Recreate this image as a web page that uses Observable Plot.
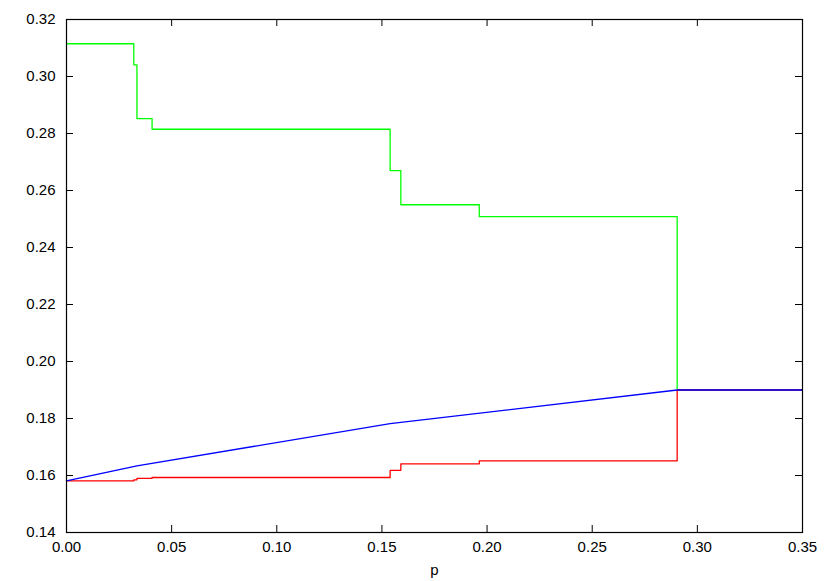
<!DOCTYPE html>
<html>
<head>
<meta charset="utf-8">
<script src="https://cdn.jsdelivr.net/npm/d3@7"></script>
<script src="https://cdn.jsdelivr.net/npm/@observablehq/plot@0.6"></script>
<style>
  html, body { margin: 0; padding: 0; background: #fff; }
  #chart svg text { font-size: 15px !important; font-family: "Liberation Sans", Arial, sans-serif; }
</style>
</head>
<body>
<div id="chart"></div>
<script>
// Break points along p
const pSteps = [0, 0.032, 0.0335, 0.0407, 0.1539, 0.159, 0.1963, 0.2904, 0.35];
const greenVals = [0.3115, 0.3041, 0.2852, 0.2815, 0.2670, 0.2550, 0.2508, 0.190, 0.190];
const redVals = [0.1581, 0.1585, 0.1590, 0.1593, 0.1618, 0.1641, 0.1651, 0.190, 0.190];
const pBlue = [0, 0.0335, 0.1539, 0.2904, 0.35];
const blueVals = [0.1581, 0.1634, 0.1782, 0.190, 0.190];
const xTicks = [0, 0.05, 0.10, 0.15, 0.20, 0.25, 0.30, 0.35];
const yTicks = [0.14, 0.16, 0.18, 0.20, 0.22, 0.24, 0.26, 0.28, 0.30, 0.32];

const green = pSteps.map((p, i) => ({p, v: greenVals[i]}));
const red = pSteps.map((p, i) => ({p, v: redVals[i]}));
const blue = pBlue.map((p, i) => ({p, v: blueVals[i]}));

const W = 830, H = 581;
const mL = 66, mR = 28, mT = 19, mB = 49;
const fw = W - mL - mR, fh = H - mT - mB;
const tl = 7;

const chart = Plot.plot({
  width: W, height: H,
  marginLeft: mL, marginRight: mR, marginTop: mT, marginBottom: mB,
  style: {fontFamily: "Liberation Sans, Arial, sans-serif", fontSize: "15px", background: "white", color: "black"},
  x: {domain: [0, 0.35]},
  y: {domain: [0.14, 0.32]},
  marks: [
    Plot.axisX(xTicks, {tickSize: 0, tickPadding: 9, tickFormat: d3.format(".2f"), label: "p", labelAnchor: "center", labelArrow: "none", labelOffset: 42}),
    Plot.axisY(yTicks, {tickSize: 0, tickPadding: 11, tickFormat: d3.format(".2f"), label: null}),
    Plot.tickX(xTicks, {x: d => d, insetTop: fh - tl, stroke: "black"}),
    Plot.tickX(xTicks, {x: d => d, insetBottom: fh - tl, stroke: "black"}),
    Plot.tickY(yTicks, {y: d => d, insetRight: fw - tl, stroke: "black"}),
    Plot.tickY(yTicks, {y: d => d, insetLeft: fw - tl, stroke: "black"}),
    Plot.line(green, {x: "p", y: "v", curve: "step-after", stroke: "#00ff00", strokeWidth: 1.3}),
    Plot.line(red, {x: "p", y: "v", curve: "step-after", stroke: "#ff0000", strokeWidth: 1.3}),
    Plot.line(blue, {x: "p", y: "v", stroke: "#0000ff", strokeWidth: 1.3}),
    Plot.frame({stroke: "black", strokeWidth: 1.2})
  ]
});
document.getElementById("chart").appendChild(chart);
</script>
</body>
</html>
